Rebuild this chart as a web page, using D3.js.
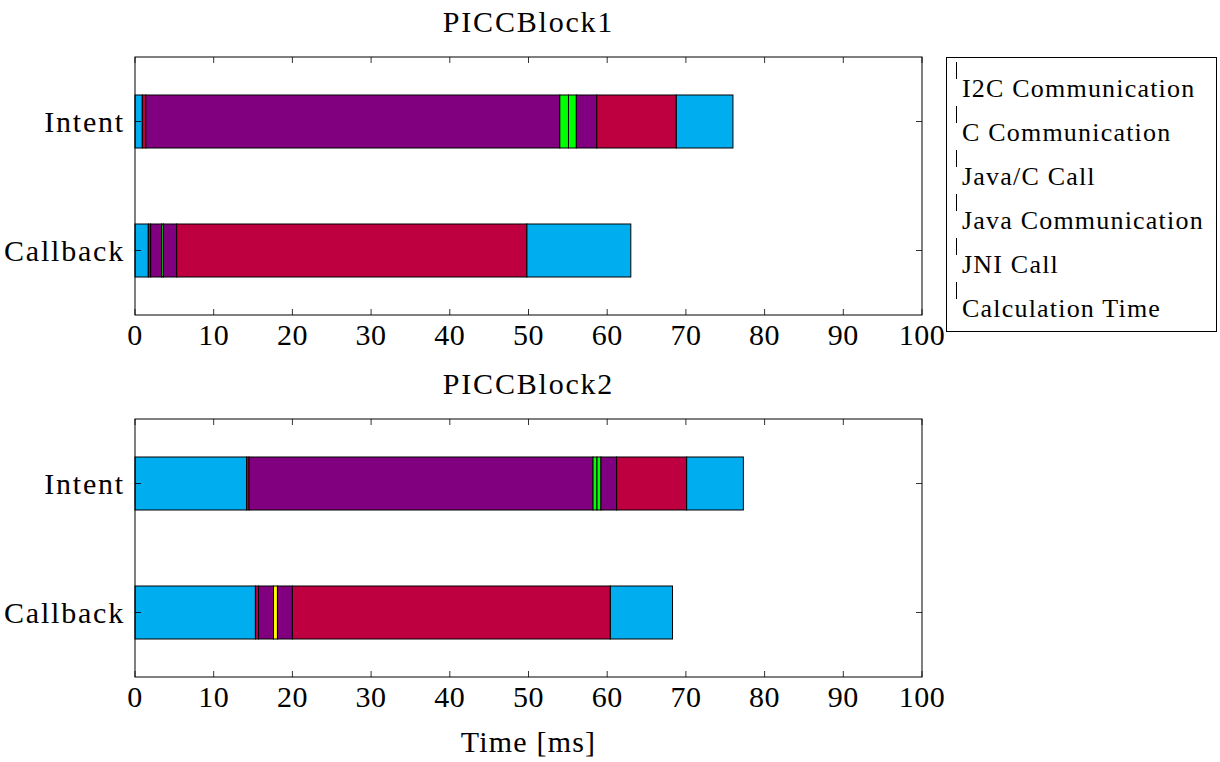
<!DOCTYPE html>
<html>
<head>
<meta charset="utf-8">
<script src="https://cdn.jsdelivr.net/npm/d3@7"></script>
<style>
  html, body { margin: 0; padding: 0; background: #fff; }
  svg { display: block; }
  text { font-family: "Liberation Serif", "DejaVu Serif", serif; fill: #000; }
</style>
</head>
<body>
<svg id="chart" width="1220" height="762"></svg>
<script>
// Row categories, bottom to top
const categories = ["Callback", "Intent"];
const xTickValues = [0, 10, 20, 30, 40, 50, 60, 70, 80, 90, 100];
const legendLabels = ["I2C Communication", "C Communication", "Java/C Call",
                      "Java Communication", "JNI Call", "Calculation Time"];
const blockTitles = ["PICCBlock1", "PICCBlock2"];

// Stacked phase sequence per row (kind of each segment) and its duration in ms
const block1IntentPhases   = ["calc", "jni", "java", "javaC", "javaC", "java", "jni", "calc"];
const block1IntentValues   = [0.93, 0.45, 52.6, 1.1, 1.0, 2.6, 10.1, 7.2];
const block1CallbackPhases = ["calc", "jni", "java", "javaC", "java", "jni", "calc"];
const block1CallbackValues = [1.69, 0.3, 1.4, 0.22, 1.69, 44.5, 13.2];

const block2IntentPhases   = ["calc", "jni", "java", "javaC", "javaC", "java", "jni", "calc"];
const block2IntentValues   = [14.19, 0.31, 43.7, 0.5, 0.5, 2.0, 8.9, 7.2];
const block2CallbackPhases = ["calc", "jni", "java", "cCall", "java", "jni", "calc"];
const block2CallbackValues = [15.3, 0.4, 1.9, 0.5, 1.9, 40.4, 7.9];

const phaseColor = {
  calc: "#00AEEF",
  jni: "#BF0040",
  java: "#800080",
  javaC: "#00FF00",
  cCall: "#FFFF00"
};

const blocks = [
  { title: blockTitles[0], rows: {
      Intent:   { phases: block1IntentPhases,   values: block1IntentValues },
      Callback: { phases: block1CallbackPhases, values: block1CallbackValues } } },
  { title: blockTitles[1], rows: {
      Intent:   { phases: block2IntentPhases,   values: block2IntentValues },
      Callback: { phases: block2CallbackPhases, values: block2CallbackValues } } }
];

const svg = d3.select("#chart");
const left = 135, right = 922;
const panelTops = [57, 419];
const panelH = 258;
const barH = 53;

const x = d3.scaleLinear().domain([0, 100]).range([left, right]);

blocks.forEach((block, bi) => {
  const top = panelTops[bi];
  const y = d3.scaleLinear().domain([-0.5, 1.5]).range([top + panelH, top]);
  const g = svg.append("g");

  // bars: cumulative stacking of each row's segments
  categories.forEach((cat, ci) => {
    const row = block.rows[cat];
    let acc = 0;
    const segs = row.values.map((v, i) => {
      const s = { x0: acc, x1: acc + v, phase: row.phases[i] };
      acc += v;
      return s;
    });
    g.selectAll(null).data(segs).enter().append("rect")
      .attr("x", d => x(d.x0))
      .attr("y", y(ci) - barH / 2)
      .attr("width", d => x(d.x1) - x(d.x0))
      .attr("height", barH)
      .attr("fill", d => phaseColor[d.phase])
      .attr("stroke", "#000")
      .attr("stroke-width", 1);
  });

  // frame
  g.append("rect")
    .attr("x", left).attr("y", top)
    .attr("width", right - left).attr("height", panelH)
    .attr("fill", "none").attr("stroke", "#000").attr("stroke-width", 1);

  // inward x ticks top and bottom
  const tl = 6;
  xTickValues.forEach(t => {
    g.append("line").attr("x1", x(t)).attr("x2", x(t))
      .attr("y1", top + panelH).attr("y2", top + panelH - tl)
      .attr("stroke", "#000").attr("stroke-width", 0.8);
    g.append("line").attr("x1", x(t)).attr("x2", x(t))
      .attr("y1", top).attr("y2", top + tl)
      .attr("stroke", "#000").attr("stroke-width", 0.8);
    g.append("text").attr("x", x(t)).attr("y", top + panelH + 30)
      .attr("text-anchor", "middle").attr("font-size", 30)
      .attr("letter-spacing", 0.5).text(t);
  });

  // inward y ticks left and right, category labels
  categories.forEach((cat, ci) => {
    g.append("line").attr("x1", left).attr("x2", left + tl)
      .attr("y1", y(ci)).attr("y2", y(ci)).attr("stroke", "#000").attr("stroke-width", 0.8);
    g.append("line").attr("x1", right).attr("x2", right - tl)
      .attr("y1", y(ci)).attr("y2", y(ci)).attr("stroke", "#000").attr("stroke-width", 0.8);
    g.append("text").attr("x", left - 10).attr("y", y(ci) + 10)
      .attr("text-anchor", "end").attr("font-size", 30)
      .attr("letter-spacing", 1.8).text(cat);
  });

  // title
  g.append("text").attr("x", (left + right) / 2).attr("y", top - 25)
    .attr("text-anchor", "middle").attr("font-size", 30)
    .attr("letter-spacing", 1.8).text(block.title);
});

// x axis label
svg.append("text").attr("x", (left + right) / 2).attr("y", 752)
  .attr("text-anchor", "middle").attr("font-size", 30)
  .attr("letter-spacing", 1.2).text("Time [ms]");

// legend
const lg = svg.append("g");
lg.append("rect").attr("x", 946.5).attr("y", 57.5).attr("width", 270).attr("height", 274)
  .attr("fill", "#fff").attr("stroke", "#000").attr("stroke-width", 1);
legendLabels.forEach((lab, i) => {
  const base = 97 + i * 44;
  lg.append("line").attr("x1", 956.5).attr("x2", 956.5)
    .attr("y1", base - 35).attr("y2", base - 18)
    .attr("stroke", "#000").attr("stroke-width", 1);
  lg.append("text").attr("x", 962).attr("y", base)
    .attr("font-size", 26).attr("letter-spacing", 1.2).text(lab);
});
</script>
</body>
</html>
